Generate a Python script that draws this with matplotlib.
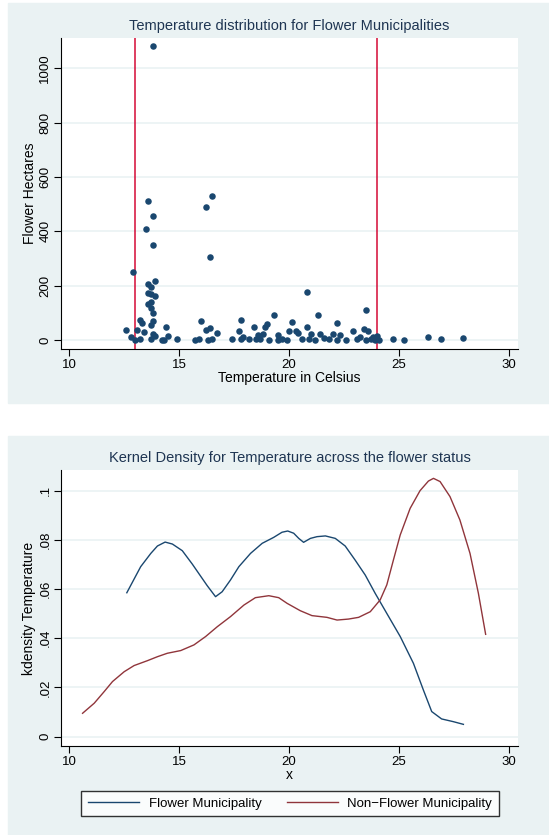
import numpy as np
import matplotlib.pyplot as plt
from matplotlib.patches import Rectangle

plt.rcParams['font.family'] = ['Liberation Sans', 'DejaVu Sans']

# scatter: temperature vs flower hectares
temp = [13.82, 13.61, 16.51, 16.21, 13.82, 13.52, 13.82, 16.42, 12.92, 13.91,
        13.61, 13.72, 20.82, 13.61, 13.72, 13.91, 13.61, 13.72, 13.72, 13.82,
        23.5, 19.32, 21.31, 17.81, 16.0, 20.12, 22.2, 13.22, 13.3, 13.82,
        13.72, 19.02, 18.9, 20.82, 14.43, 16.42, 18.41, 12.61, 13.11, 13.43,
        16.72, 22.9, 23.41, 23.6, 17.72, 16.21, 20.0, 20.32, 20.4, 13.82,
        13.91, 22.3, 21.0, 21.4, 22.0, 19.5, 18.6, 18.8, 14.5, 24.0,
        26.31, 27.9, 26.9, 25.21, 24.71, 14.92, 12.81, 13.22, 13.0, 13.72,
        14.22, 14.3, 15.71, 15.9, 16.3, 16.5, 17.42, 17.81, 17.9, 18.2,
        18.5, 18.7, 19.1, 19.5, 19.7, 19.9, 20.6, 20.9, 21.2, 21.6,
        21.8, 22.2, 22.6, 23.1, 23.2, 23.5, 23.71, 23.9, 24.1, 23.8]
hectares = [1080, 512, 529, 488, 455, 410, 350, 304, 249, 216,
            207, 194, 178, 173, 169, 162, 134, 139, 117, 98,
            112, 93, 91, 72, 71, 66, 63, 75, 61, 70,
            55, 59, 47, 49, 48, 45, 48, 37, 37, 29,
            27, 33, 42, 34, 33, 37, 33, 33, 25, 22,
            15, 18, 21, 21, 21, 17, 18, 21, 15, 15,
            12, 6, 2, 0, 5, 2, 10, 5, 0, 2,
            0, 0, 0, 2, 0, 2, 4, 2, 10, 5,
            2, 2, 0, 0, 2, 0, 5, 2, 0, 6,
            4, 0, 0, 5, 10, 0, 2, 0, 0, 10]
vlines = [13, 24]

# kernel density curves
flower_x = [12.63, 13.26, 13.72, 14.02, 14.37, 14.7, 15.15, 15.6, 16.28, 16.66,
            16.96, 17.34, 17.72, 18.25, 18.78, 19.3, 19.68, 19.94, 20.21, 20.44,
            20.66, 20.97, 21.27, 21.65, 22.1, 22.55, 23.0, 23.46, 23.91, 24.44,
            25.05, 25.65, 26.1, 26.48, 26.93, 27.46, 27.92]
flower_y = [0.0585, 0.0691, 0.0745, 0.0775, 0.0791, 0.0783, 0.0756, 0.0702, 0.0614, 0.0569,
            0.0589, 0.0637, 0.0691, 0.0745, 0.0786, 0.081, 0.0831, 0.0836, 0.0827, 0.0806,
            0.079, 0.0806, 0.0813, 0.0816, 0.0806, 0.0775, 0.0718, 0.0657, 0.0583, 0.0501,
            0.0407, 0.0298, 0.019, 0.0102, 0.0072, 0.0061, 0.005]
nonflower_x = [10.62, 11.15, 11.6, 11.98, 12.51, 12.96, 13.57, 14.02, 14.47, 15.08,
               15.68, 16.21, 16.74, 17.34, 17.95, 18.47, 19.08, 19.53, 19.91, 20.51,
               21.04, 21.72, 22.18, 22.7, 23.16, 23.69, 24.14, 24.44, 24.74, 25.05,
               25.5, 25.95, 26.33, 26.56, 26.86, 27.31, 27.76, 28.22, 28.6, 28.93]
nonflower_y = [0.0095, 0.0136, 0.0183, 0.0224, 0.0264, 0.0289, 0.0309, 0.0325, 0.0339, 0.035,
               0.0373, 0.0407, 0.0447, 0.0488, 0.0535, 0.0565, 0.0573, 0.0565, 0.0542, 0.0512,
               0.0492, 0.0485, 0.0474, 0.0478, 0.0485, 0.0508, 0.0556, 0.0617, 0.0718, 0.082,
               0.0928, 0.1, 0.1039, 0.105, 0.1037, 0.0976, 0.0881, 0.0745, 0.0583, 0.0416]

navy = '#1A476F'
maroon = '#90353B'
bg = '#EAF2F3'
title_c = '#1E3552'

W, H = 549, 835
fig = plt.figure(figsize=(W / 100, H / 100), dpi=100)

# panel backgrounds
fig.patches.append(Rectangle((8 / W, 1 - 403 / H), 541 / W, 400 / H,
                             transform=fig.transFigure, color=bg, zorder=-5))
fig.patches.append(Rectangle((8 / W, 0), 541 / W, (H - 436) / H,
                             transform=fig.transFigure, color=bg, zorder=-5))


def style_axes(ax, yticks, ylabels):
    ax.set_facecolor('white')
    ax.spines['top'].set_visible(False)
    ax.spines['right'].set_visible(False)
    ax.set_xticks([10, 15, 20, 25, 30])
    ax.set_yticks(yticks)
    ax.set_yticklabels(ylabels, rotation=90, va='center')
    ax.tick_params(labelsize=9.5, length=5, pad=2, colors='black')
    ax.grid(axis='y', color=bg, linewidth=1.2)
    ax.set_axisbelow(True)


# top: scatter
ax1 = fig.add_axes([61 / W, 1 - 349 / H, 457 / W, 311 / H])
ax1.scatter(temp, hectares, s=22, color=navy, zorder=3, linewidths=0)
for v in vlines:
    ax1.axvline(v, color='#D40A36', linewidth=1.1, zorder=2)
ax1.set_xlim(9.64, 30.4)
ax1.set_ylim(-33, 1111)
style_axes(ax1, [0, 200, 400, 600, 800, 1000], ['0', '200', '400', '600', '800', '1000'])
ax1.set_xlabel('Temperature in Celsius', fontsize=10, labelpad=0)
ax1.set_ylabel('Flower Hectares', fontsize=10, labelpad=2)
ax1.set_title('Temperature distribution for Flower Municipalities',
              fontsize=10.5, color=title_c, pad=6)

# bottom: kernel density
ax2 = fig.add_axes([61 / W, 1 - 746 / H, 457 / W, 276 / H])
l1, = ax2.plot(flower_x, flower_y, color=navy, linewidth=1)
l2, = ax2.plot(nonflower_x, nonflower_y, color=maroon, linewidth=1)
ax2.set_xlim(9.64, 30.4)
ax2.set_ylim(-0.0038, 0.1084)
style_axes(ax2, [0, 0.02, 0.04, 0.06, 0.08, 0.1], ['0', '.02', '.04', '.06', '.08', '.1'])
ax2.set_xlabel('x', fontsize=10, labelpad=0)
ax2.set_ylabel('kdensity Temperature', fontsize=10, labelpad=2)
ax2.set_title('Kernel Density for Temperature across the flower status',
              fontsize=10.5, color=title_c, pad=6)

leg = fig.legend([l1, l2], ['Flower Municipality', 'Non\u2212Flower Municipality'],
                 loc='center', bbox_to_anchor=(290 / W, 1 - 803.5 / H), ncol=2,
                 fontsize=9.5, frameon=True, fancybox=False, handlelength=3.9,
                 columnspacing=1.9, borderpad=0.5, handletextpad=0.7)
leg.get_frame().set_edgecolor('black')
leg.get_frame().set_linewidth(1)

fig.savefig('out.png', dpi=100)
